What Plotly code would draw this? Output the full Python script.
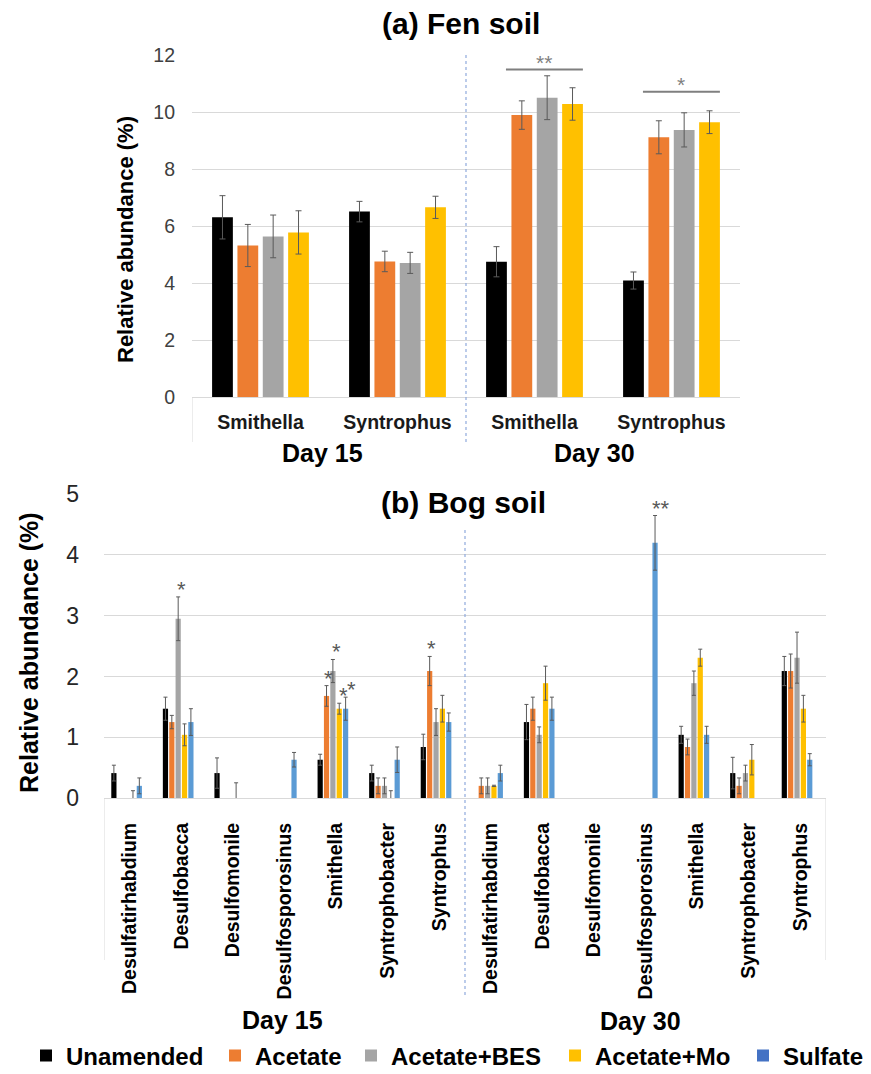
import plotly.graph_objects as go

# ---------------- data ----------------
treatments = ["Unamended", "Acetate", "Acetate+BES", "Acetate+Mo", "Sulfate"]
colors = ["#000000", "#ED7D31", "#A5A5A5", "#FFC000", "#5B9BD5"]
legend_sulfate_color = "#4472C4"
days = ["Day 15", "Day 30"]

# (a) Fen soil: order D15 Smithella, D15 Syntrophus, D30 Smithella, D30 Syntrophus
fen_genera = ["Smithella", "Syntrophus"]
fen_unamended = [6.31, 6.51, 4.75, 4.09]
fen_acetate = [5.32, 4.76, 9.90, 9.12]
fen_bes = [5.64, 4.71, 10.51, 9.38]
fen_mo = [5.78, 6.66, 10.29, 9.65]
fen_unamended_err = [0.76, 0.36, 0.53, 0.30]
fen_acetate_err = [0.74, 0.36, 0.50, 0.58]
fen_bes_err = [0.75, 0.37, 0.77, 0.60]
fen_mo_err = [0.76, 0.39, 0.57, 0.40]
# significance brackets (a): category index, label, height
fen_sig_cat = [2, 3]
fen_sig_text = ["**", "*"]
fen_sig_y = [11.5, 10.72]

# (b) Bog soil: Day 15 genera followed by Day 30 genera
bog_genera = ["Desulfatirhabdium", "Desulfobacca", "Desulfomonile", "Desulfosporosinus",
              "Smithella", "Syntrophobacter", "Syntrophus"]
bog_unamended = [0.41, 1.47, 0.41, None, 0.63, 0.41, 0.84,
                 None, 1.25, None, None, 1.04, 0.41, 2.09]
bog_acetate = [None, 1.25, None, None, 1.68, 0.20, 2.09,
               0.20, 1.47, None, None, 0.84, 0.20, 2.09]
bog_bes = [None, 2.95, None, None, 2.09, 0.20, 1.25,
           0.20, 1.04, None, None, 1.89, 0.41, 2.31]
bog_mo = [0.0, 1.04, 0.0, None, 1.47, 0.0, 1.47,
          0.20, 1.89, None, None, 2.31, 0.63, 1.47]
bog_sulfate = [0.20, 1.25, None, 0.63, 1.47, 0.63, 1.25,
               0.41, 1.47, None, 4.20, 1.04, None, 0.63]
bog_unamended_err = [0.13, 0.19, 0.25, None, 0.09, 0.13, 0.21,
                     None, 0.29, None, None, 0.14, 0.26, 0.24]
bog_acetate_err = [None, 0.11, None, None, 0.17, 0.13, 0.24,
                   0.13, 0.19, None, None, 0.13, 0.13, 0.28]
bog_bes_err = [None, 0.36, None, None, 0.19, 0.13, 0.22,
               0.13, 0.13, None, None, 0.20, 0.13, 0.42]
bog_mo_err = [0.12, 0.18, 0.25, None, 0.09, 0.12, 0.22,
              0.01, 0.28, None, None, 0.14, 0.25, 0.22]
bog_sulfate_err = [0.13, 0.22, None, 0.12, 0.19, 0.21, 0.15,
                   0.13, 0.19, None, 0.45, 0.14, None, 0.10]
# significance stars (b): category index, treatment index, label
bog_sig_cat = [1, 4, 4, 4, 4, 6, 10]
bog_sig_trt = [2, 1, 2, 3, 4, 1, 4]
bog_sig_text = ["*", "*", "*", "*", "*", "*", "**"]

# ---------------- layout constants ----------------
W, H = 871, 1074
FONT = "Liberation Sans, Arial, sans-serif"
BARGAP, BARGROUPGAP = 0.26, 0.18
ERRC = "#5a5a5a"
GRID = "#D9D9D9"

ax_a = dict(x0=192, x1=740, ytop=55, ybot=397)
ax_b = dict(x0=104, x1=826, ytop=494, ybot=798)
legend_left_px = [26, 215, 351, 555, 743]   # left edge of each legend entry

def px(x):
    return x / W

def py(y):
    return 1 - y / H

legend_ids = ["legend", "legend2", "legend3", "legend4", "legend5"]

fig = go.Figure()

fen_vals = [fen_unamended, fen_acetate, fen_bes, fen_mo]
fen_errs = [fen_unamended_err, fen_acetate_err, fen_bes_err, fen_mo_err]
fen_x = list(range(len(fen_unamended)))
for i, (v, e) in enumerate(zip(fen_vals, fen_errs)):
    fig.add_trace(go.Bar(
        x=fen_x, y=v, name=treatments[i], marker=dict(color=colors[i], line=dict(width=0)),
        error_y=dict(type="data", array=e, color=ERRC, thickness=1, width=3),
        xaxis="x", yaxis="y", showlegend=False))

bog_vals = [bog_unamended, bog_acetate, bog_bes, bog_mo, bog_sulfate]
bog_errs = [bog_unamended_err, bog_acetate_err, bog_bes_err, bog_mo_err, bog_sulfate_err]
bog_x = list(range(len(bog_unamended)))
for i, (v, e) in enumerate(zip(bog_vals, bog_errs)):
    fig.add_trace(go.Bar(
        x=bog_x, y=v, name=treatments[i], marker=dict(color=colors[i], line=dict(width=0)),
        error_y=dict(type="data", array=e, color=ERRC, thickness=1, width=2),
        xaxis="x2", yaxis="y2", showlegend=(i < 4), legend=legend_ids[i]))
# legend entry for Sulfate (legend swatch is a darker blue in the original)
fig.add_trace(go.Bar(x=[None], y=[None], name=treatments[4],
                     marker=dict(color=legend_sulfate_color, line=dict(width=0)),
                     xaxis="x2", yaxis="y2", showlegend=True, legend=legend_ids[4]))

annotations = []
shapes = []

def txt(x, y, text, size, color="#000", bold=True, **kw):
    d = dict(x=px(x), y=py(y), xref="paper", yref="paper", text=text, showarrow=False,
             xanchor="center", yanchor="middle",
             font=dict(family=FONT, size=size, color=color, weight="bold" if bold else "normal"))
    d.update(kw)
    return d

# (a) significance brackets
n_a = 4
slot_a = (1 - BARGAP) / n_a
barw_a = slot_a * (1 - BARGROUPGAP)
for c, t, yv in zip(fen_sig_cat, fen_sig_text, fen_sig_y):
    x0 = c + (1 - (n_a - 1) / 2) * slot_a - barw_a / 2 - 0.04
    x1 = c + (3 - (n_a - 1) / 2) * slot_a + barw_a / 2
    shapes.append(dict(type="line", xref="x", yref="y", x0=x0, x1=x1, y0=yv, y1=yv,
                       line=dict(color="#7f7f7f", width=2)))
    annotations.append(dict(x=(x0 + x1) / 2, y=yv, xref="x", yref="y", text=t,
                            showarrow=False, xanchor="center", yanchor="bottom", yshift=-6,
                            font=dict(family=FONT, size=21, color="#7f7f7f")))

# (b) significance stars
n_b = 5
cat_px_b = (ax_b["x1"] - ax_b["x0"]) / len(bog_x)
slot_px_b = cat_px_b * (1 - BARGAP) / n_b
for c, ti, t in zip(bog_sig_cat, bog_sig_trt, bog_sig_text):
    top = bog_vals[ti][c] + bog_errs[ti][c]
    annotations.append(dict(x=c, y=top, xref="x2", yref="y2", text=t, showarrow=False,
                            xanchor="center", yanchor="bottom",
                            xshift=(ti - (n_b - 1) / 2) * slot_px_b, yshift=-7,
                            font=dict(family=FONT, size=22, color="#595959")))

# titles
annotations.append(txt(461, 24, "(a) Fen soil", 30))
annotations.append(txt(463, 502, "(b) Bog soil", 30, bgcolor="white", borderpad=10))
# y axis titles
annotations.append(txt(125, 239, "Relative abundance (%)", 22, textangle=-90))
annotations.append(txt(29, 653, "Relative abundance (%)", 25, textangle=-90))
# day labels
for d, xx, yy in [(days[0], 322, 453), (days[1], 594, 453), (days[0], 282, 1020), (days[1], 640, 1021)]:
    annotations.append(txt(xx, yy, d, 25))

# divider lines & category box lines
shapes.append(dict(type="line", xref="x", yref="paper", x0=1.5, x1=1.5, y0=py(442), y1=py(55),
                   line=dict(color="#8FAADC", width=1.2, dash="dot")))
shapes.append(dict(type="line", xref="x2", yref="paper", x0=6.5, x1=6.5, y0=py(995), y1=py(528),
                   line=dict(color="#8FAADC", width=1.2, dash="dot")))
shapes.append(dict(type="line", xref="x", yref="paper", x0=-0.5, x1=-0.5, y0=py(442), y1=py(397),
                   line=dict(color=GRID, width=1)))
for xx in (-0.5, len(bog_x) - 0.5):
    shapes.append(dict(type="line", xref="x2", yref="paper", x0=xx, x1=xx, y0=py(960), y1=py(798),
                       line=dict(color=GRID, width=1)))

legend_layouts = {}
for lid, lx in zip(legend_ids, legend_left_px):
    legend_layouts[lid] = dict(orientation="h", x=px(lx), xanchor="left", y=-0.004,
                               yanchor="bottom", itemclick=False, bgcolor="rgba(0,0,0,0)",
                               font=dict(family=FONT, size=24, color="#000", weight="bold"))

fig.update_layout(
    width=W, height=H, margin=dict(l=0, r=0, t=0, b=0, autoexpand=False),
    paper_bgcolor="white", plot_bgcolor="white",
    barmode="group", bargap=BARGAP, bargroupgap=BARGROUPGAP,
    font=dict(family=FONT, color="#000"),
    xaxis=dict(domain=[px(ax_a["x0"]), px(ax_a["x1"])], anchor="y",
               range=[-0.5, len(fen_x) - 0.5], tickvals=fen_x, ticktext=fen_genera * 2,
               showgrid=False, zeroline=False, showline=True, linecolor=GRID, linewidth=1,
               ticks="", ticklabelstandoff=8,
               tickfont=dict(family=FONT, size=19.5, color="#1a1a1a", weight="bold")),
    yaxis=dict(domain=[py(ax_a["ybot"]), py(ax_a["ytop"])], anchor="x",
               range=[0, 12.01], dtick=2, showgrid=True, gridcolor=GRID, gridwidth=1,
               zeroline=False, showline=False, ticks="", ticklabelstandoff=16,
               tickfont=dict(family=FONT, size=19.5, color="#404040")),
    xaxis2=dict(domain=[px(ax_b["x0"]), px(ax_b["x1"])], anchor="y2",
                range=[-0.5, len(bog_x) - 0.5], tickvals=bog_x, ticktext=bog_genera * 2,
                tickangle=-90, showgrid=False, zeroline=False, showline=True, linecolor=GRID,
                linewidth=1, ticks="", ticklabelstandoff=16,
                tickfont=dict(family=FONT, size=19.5, color="#000", weight="bold")),
    yaxis2=dict(domain=[py(ax_b["ybot"]), py(ax_b["ytop"])], anchor="x2",
                range=[0, 5.004], dtick=1, showgrid=True, gridcolor=GRID, gridwidth=1,
                zeroline=False, showline=False, ticks="", ticklabelstandoff=24,
                tickfont=dict(family=FONT, size=23, color="#262626")),
    annotations=annotations, shapes=shapes,
    **legend_layouts,
)

fig.write_html("out.html")
